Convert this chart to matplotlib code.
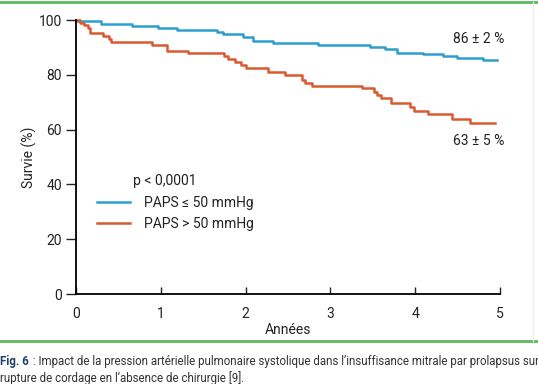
import matplotlib
matplotlib.use('Agg')
import matplotlib.pyplot as plt
from matplotlib.lines import Line2D

plt.rcParams['font.family'] = ['Roboto', 'DejaVu Sans']

# Kaplan-Meier steps (years, survival %)
t_low = [0, 0.30, 0.66, 0.97, 1.19, 1.66, 1.73, 1.97, 2.09, 2.32, 2.85,
         3.47, 3.64, 3.78, 4.09, 4.33, 4.49, 4.80, 4.97]
s_low = [99.7, 98.6, 97.9, 97.2, 96.4, 95.8, 94.9, 93.9, 92.5, 91.7, 91.0,
         90.3, 89.3, 88.1, 87.5, 86.9, 86.2, 85.4, 85.4]

t_high = [0, 0.05, 0.10, 0.14, 0.17, 0.32, 0.39, 0.41, 0.90, 1.07, 1.32,
          1.74, 1.79, 1.88, 1.95, 2.01, 2.27, 2.46, 2.66, 2.70, 2.78,
          3.37, 3.51, 3.55, 3.60, 3.72, 3.94, 3.99, 4.15, 4.43, 4.65, 4.94]
s_high = [100, 99.0, 98.2, 97.0, 95.1, 94.2, 93.0, 91.9, 90.9, 88.8, 87.8,
          86.9, 85.6, 84.8, 83.6, 82.6, 80.9, 79.9, 78.1, 76.9, 76.0,
          75.1, 73.9, 72.6, 71.6, 69.8, 68.4, 66.8, 65.7, 63.8, 62.5, 62.5]

labels = ['PAPS \u2264 50 mmHg', 'PAPS > 50 mmHg']
end_labels = ['86 \u00b1 2 %', '63 \u00b1 5 %']
pvalue = 'p < 0,0001'
xticks = [0, 1, 2, 3, 4, 5]
yticks = [0, 20, 40, 60, 80, 100]

blue = '#2e9fcc'
red = '#d95a30'
green = '#5cb85c'
txt = '#222222'

fig = plt.figure(figsize=(5.38, 3.84), dpi=100)
ax = fig.add_axes([76 / 538, 1 - 294 / 384, 424 / 538, 274 / 384])

ax.step(t_low, s_low, where='post', color=blue, lw=1.8, clip_on=False)
ax.step(t_high, s_high, where='post', color=red, lw=1.8, clip_on=False)

ax.set_xlim(0, 5)
ax.set_ylim(0, 100)
ax.set_xticks(xticks)
ax.set_yticks(yticks)
for s in ['top', 'right']:
    ax.spines[s].set_visible(False)
for s in ['left', 'bottom']:
    ax.spines[s].set_linewidth(1.3)
ax.tick_params(axis='y', direction='out', length=7, width=1, labelsize=10,
               colors=txt, pad=3)
ax.tick_params(axis='x', direction='in', length=5, width=1, labelsize=10,
               colors=txt, pad=9)
ax.set_ylabel('Survie (%)', fontsize=10, color=txt, labelpad=1)
ax.set_xlabel('Ann\u00e9es', fontsize=10, color=txt, labelpad=2)

# end-of-curve annotations
ax.text(4.44, 93.0, end_labels[0], fontsize=10, color=txt, va='center')
ax.text(4.44, 56.0, end_labels[1], fontsize=10, color=txt, va='center')

# p value and legend
ax.text(0.67, 41.2, pvalue, fontsize=10, color=txt, va='center')
handles = [Line2D([], [], color=blue, lw=1.8),
           Line2D([], [], color=red, lw=1.8)]
ax.legend(handles, labels, loc='upper left', bbox_to_anchor=(0.02, 0.405),
          frameon=False, fontsize=10, handlelength=2.4, handletextpad=1.0,
          labelspacing=0.55, labelcolor=txt)

# green frame lines and caption
fig.add_artist(Line2D([0, 1], [1 - 2 / 384, 1 - 2 / 384], color=green, lw=2))
fig.add_artist(Line2D([0, 1], [1 - 341 / 384, 1 - 341 / 384], color=green, lw=2))
fig.add_artist(Line2D([533 / 538, 533 / 538], [1 - 341 / 384, 1 - 2 / 384],
                      color='#eeeeee', lw=1))

fig.text(0.0, 1 - 362 / 384, 'Fig. 6', fontsize=8.3, fontweight='bold',
         color='#1f3f66', va='center')
fig.text(30 / 538, 1 - 362 / 384,
         ' : Impact de la pression art\u00e9rielle pulmonaire systolique dans '
         'l\u2019insuffisance mitrale par prolapsus sur',
         fontsize=8.3, color='#333333', va='center')
fig.text(0.0, 1 - 382 / 384,
         'rupture de cordage en l\u2019absence de chirurgie [9].',
         fontsize=8.3, color='#333333', va='baseline')

fig.savefig('out.png', dpi=100)
